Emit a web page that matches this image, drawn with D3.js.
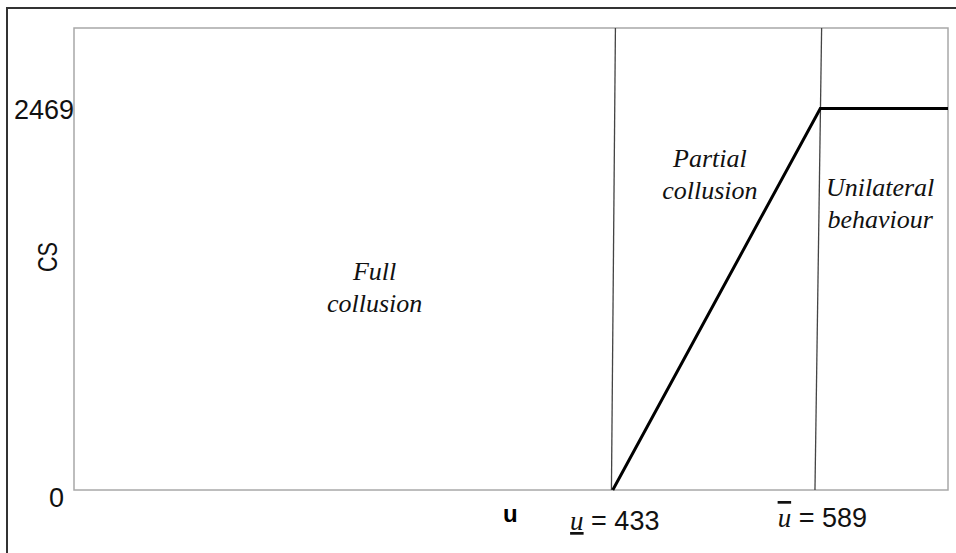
<!DOCTYPE html>
<html lang="en">
<head>
    <meta charset="UTF-8">
    <title>CS regimes</title>
    <style>
        body { margin: 0; padding: 0; background: #fff; }
        svg { display: block; }
        .tick-label { font-family: "Liberation Sans", Arial, sans-serif; font-size: 27px; fill: #111; }
        .region { font-family: "Liberation Serif", "Times New Roman", serif; font-style: italic; font-size: 26px; fill: #111; }
    </style>
    <script src="https://d3js.org/d3.v7.min.js"></script>
</head>
<body>
<div id="chart"></div>
<script>
    // values
    const uDomain = [28, 685];
    const csDomain = [0, 2990];
    const uLow = 433, uHigh = 589;
    const curveU = [433, 589, 685];
    const curveCS = [0, 2469, 2469];
    // regime boundaries (slightly tilted in the original): u at bottom / at top
    const boundBottom = [432, 585];
    const boundTop = [435, 590];
    const yTicks = [0, 2469];
    const regions = [
        { lines: ["Full", "collusion"], u: 254, cs: 1357 },
        { lines: ["Partial", "collusion"], u: 506, cs: 2090 },
        { lines: ["Unilateral", "behaviour"], u: 634, cs: 1900 }
    ];

    const W = 956, H = 553;
    const mLeft = 74, mRight = 948, mTop = 28, mBottom = 490;

    const svg = d3.select("#chart").append("svg")
        .attr("width", W).attr("height", H);

    const x = d3.scaleLinear().domain(uDomain).range([mLeft, mRight]);
    const y = d3.scaleLinear().domain(csDomain).range([mBottom, mTop]);

    // outer border (right/bottom edges fall off the picture)
    svg.append("rect")
        .attr("x", 7).attr("y", 8).attr("width", 980).attr("height", 580)
        .attr("fill", "none").attr("stroke", "#333").attr("stroke-width", 2);

    // plot frame
    svg.append("rect")
        .attr("x", mLeft).attr("y", mTop)
        .attr("width", mRight - mLeft).attr("height", mBottom - mTop)
        .attr("fill", "none").attr("stroke", "#a8a8a8").attr("stroke-width", 1.5);

    // regime boundaries
    svg.selectAll(".bound")
        .data(boundBottom)
        .enter().append("line")
        .attr("class", "bound")
        .attr("x1", d => x(d)).attr("y1", y(0))
        .attr("x2", (d, i) => x(boundTop[i])).attr("y2", y(csDomain[1]))
        .attr("stroke", "#444").attr("stroke-width", 1.3);

    // CS curve
    const pts = curveU.map((u, i) => [u, curveCS[i]]);
    svg.append("path")
        .datum(pts)
        .attr("d", d3.line().x(d => x(d[0])).y(d => y(d[1])))
        .attr("fill", "none").attr("stroke", "#000").attr("stroke-width", 3);

    // y tick labels
    svg.append("text").attr("class", "tick-label")
        .attr("x", mLeft).attr("y", y(yTicks[1]) + 10)
        .attr("text-anchor", "end").text(yTicks[1]);
    svg.append("text").attr("class", "tick-label")
        .attr("x", mLeft - 10).attr("y", y(yTicks[0]) + 17)
        .attr("text-anchor", "end").text(yTicks[0]);

    // y axis title
    svg.append("text").attr("class", "tick-label")
        .attr("transform", `translate(57,${y(1508)}) rotate(-90)`)
        .attr("text-anchor", "middle")
        .attr("textLength", 30).attr("lengthAdjust", "spacingAndGlyphs")
        .text("CS");

    // x axis title
    svg.append("text")
        .attr("x", x(356)).attr("y", 522)
        .attr("text-anchor", "middle")
        .style("font-family", "Liberation Sans, Arial, sans-serif")
        .style("font-weight", "bold").style("font-size", "24px")
        .text("u");

    // x tick labels with underlined / overlined u
    function uLabel(u, deco, yy) {
        const t = svg.append("text").attr("class", "tick-label")
            .attr("x", x(u) + 2).attr("y", yy).attr("text-anchor", "middle");
        t.append("tspan")
            .style("font-family", "Liberation Serif, serif")
            .style("font-style", "italic")
            .style("text-decoration", deco)
            .text("u");
        t.append("tspan").text(" = " + u);
    }
    uLabel(uLow, "underline", 530);
    uLabel(uHigh, "overline", 527);

    // regime labels
    regions.forEach(r => {
        const t = svg.append("text").attr("class", "region")
            .attr("x", x(r.u)).attr("y", y(r.cs))
            .attr("text-anchor", "middle");
        r.lines.forEach((s, i) => {
            t.append("tspan").attr("x", x(r.u)).attr("dy", i ? 32 : 0).text(s);
        });
    });
</script>
</body>
</html>
